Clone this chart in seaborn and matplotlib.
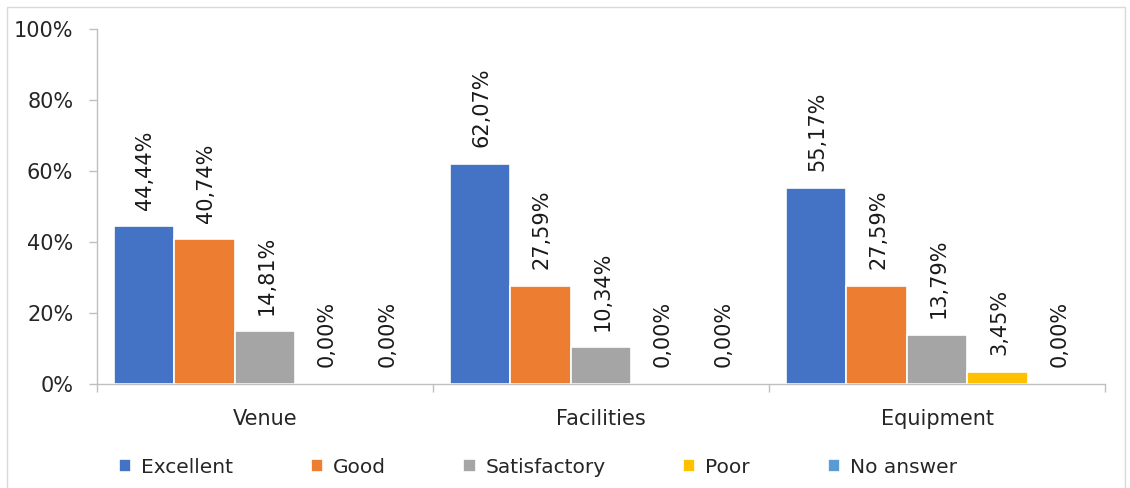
import matplotlib
matplotlib.use("Agg")
import matplotlib.pyplot as plt
import matplotlib.patches as mpatches
from matplotlib.ticker import FuncFormatter, FixedLocator
import seaborn as sns
import pandas as pd

# data
aspects = ["Venue", "Facilities", "Equipment"]
ratings = ["Excellent", "Good", "Satisfactory", "Poor", "No answer"]
venue = [44.44, 40.74, 14.81, 0.00, 0.00]
facilities = [62.07, 27.59, 10.34, 0.00, 0.00]
equipment = [55.17, 27.59, 13.79, 3.45, 0.00]
colors = ["#4472C4", "#ED7D31", "#A5A5A5", "#FFC000", "#5B9BD5"]

rows = []
for aspect, vals in zip(aspects, [venue, facilities, equipment]):
    for rating, v in zip(ratings, vals):
        rows.append({"Aspect": aspect, "Rating": rating, "Percent": v})
df = pd.DataFrame(rows)

sns.set_theme(style="white")
plt.rcParams["font.family"] = ["DejaVu Sans"]

fig = plt.figure(figsize=(11.3, 4.88), dpi=100)
ax = fig.add_axes([0.0858, 0.2131, 0.978 - 0.0858, 0.9406 - 0.2131])

sns.barplot(data=df, x="Aspect", y="Percent", hue="Rating", order=aspects,
            hue_order=ratings, palette=colors, width=0.9, saturation=1, ax=ax,
            edgecolor="white", linewidth=1.2, legend=True)

# value labels above each bar, rotated
for container in ax.containers:
    for bar in container:
        h = bar.get_height()
        ax.annotate(f"{h:.2f}%".replace(".", ","),
                    (bar.get_x() + bar.get_width() / 2, h),
                    xytext=(1, 12), textcoords="offset points",
                    rotation=90, ha="center", va="bottom",
                    fontsize=15, color="#1a1a1a")

ax.set_ylim(0, 100)
ax.set_xlim(-0.5, 2.5)
ax.yaxis.set_major_locator(FixedLocator([0, 20, 40, 60, 80, 100]))
ax.yaxis.set_major_formatter(FuncFormatter(lambda v, p: f"{v:.0f}%"))
ax.tick_params(axis="y", which="major", left=True, length=6, width=1,
               color="#BFBFBF", labelsize=15, labelcolor="#262626", pad=11)

# category separators as minor ticks, labels at the centers
ax.set_xticks([-0.5, 0.5, 1.5, 2.5], minor=True)
ax.tick_params(axis="x", which="minor", bottom=True, length=6, width=1,
               color="#BFBFBF", direction="out")
ax.tick_params(axis="x", which="major", length=0, labelsize=15,
               labelcolor="#262626", pad=18)

ax.set_xlabel("")
ax.set_ylabel("")
for side in ["top", "right"]:
    ax.spines[side].set_visible(False)
for side in ["left", "bottom"]:
    ax.spines[side].set_color("#BFBFBF")
    ax.spines[side].set_linewidth(1)

handles, labels = ax.get_legend_handles_labels()
ax.get_legend().remove()
fig.legend(handles, labels, loc="center", bbox_to_anchor=(0.476, 0.043),
           ncol=5, frameon=False, fontsize=14.5, handlelength=0.6,
           handleheight=0.6, columnspacing=3.85, handletextpad=0.5,
           labelcolor="#262626")

# outer chart frame
fig.patches.append(mpatches.Rectangle((7 / 1130, -0.05), 1118 / 1130, 1.05 - 7 / 488,
                                      transform=fig.transFigure, fill=False,
                                      edgecolor="#D9D9D9", linewidth=1))

fig.savefig("out.png", dpi=100)
